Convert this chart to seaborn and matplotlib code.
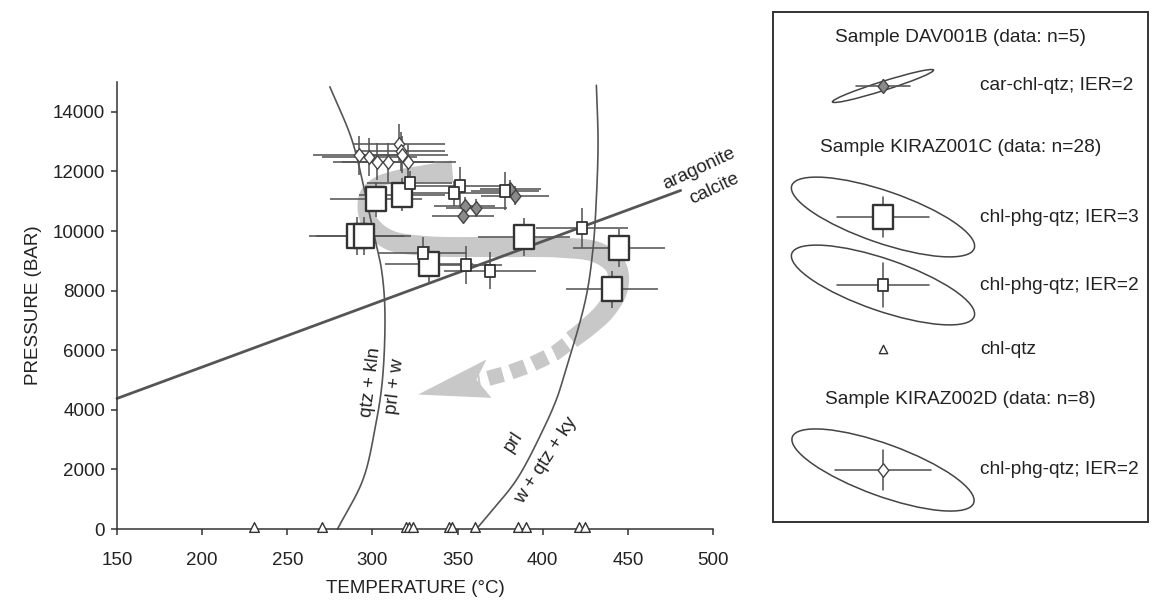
import numpy as np
import matplotlib
matplotlib.use("Agg")
import matplotlib.pyplot as plt
import seaborn as sns
from matplotlib.path import Path
from matplotlib.patches import Ellipse, Polygon

sns.set_theme(style="ticks")
plt.rcParams["font.family"] = ["Liberation Sans", "DejaVu Sans"]
plt.rcParams["lines.scale_dashes"] = False

FS = 13.5
FS_KEY = 13.8
INK = "#222222"
LINE = "#555555"
EDGE = "#333333"
BAND = "#c8c8c8"

# ---- KIRAZ001C : chl-phg-qtz, IER=3 (large squares)
sq3_T = [301.9, 317.4, 290.8, 294.8, 333.3, 389.1, 444.9, 440.5]
sq3_P = [11070, 11220, 9840, 9840, 8890, 9790, 9430, 8050]
sq3_dT = [27, 25, 28, 28, 26, 27, 27, 27]
sq3_dP = [590, 560, 640, 640, 620, 640, 640, 620]

# ---- KIRAZ001C : chl-phg-qtz, IER=2 (small squares)
sq2_T = [321.9, 351.3, 347.9, 377.7, 329.8, 354.8, 368.9, 423.3]
sq2_P = [11620, 11500, 11260, 11340, 9250, 8860, 8670, 10100]
sq2_dT = [25, 30, 28, 20, 26, 21, 27, 27]
sq2_dP = [380, 650, 420, 650, 560, 645, 630, 670]

# ---- KIRAZ001C : chl-qtz (temperature only)
tri_T = [230.6, 270.5, 320.0, 321.5, 323.9, 345.0, 346.8, 360.1, 385.2, 390.0, 421.1, 425.1]
tri_P = [80, 80, 80, 80, 80, 80, 80, 80, 80, 80, 80, 80]

# ---- DAV001B : car-chl-qtz, IER=2
dav_T = [354.2, 361.1, 353.2, 383.6, 381.0]
dav_P = [10850, 10760, 10520, 11190, 11420]
dav_dT = [18, 18, 18, 20, 18]
dav_dP = [280, 300, 260, 320, 300]

# ---- KIRAZ002D : chl-phg-qtz, IER=2
k2_T = [292.2, 298.1, 302.8, 308.9, 320.8, 315.7, 316.5, 317.5]
k2_P = [12540, 12480, 12330, 12310, 12310, 12930, 12670, 12560]
k2_dT = [27, 28, 26, 27, 28, 27, 26, 27]
k2_dP = [650, 640, 620, 650, 600, 660, 640, 620]

# ---- reaction curves
kln_T = [279.5, 294.4, 301.4, 305.9, 307.3, 305.3, 302.8, 298.9, 296.0, 288.0, 275.0]
kln_P = [0, 1650, 3330, 5020, 7400, 8720, 9400, 10400, 11190, 13050, 14840]
prl_T = [361.1, 369.0, 384.6, 400.2, 408.0, 411.9, 425.2, 429.5, 431.5, 432.5, 431.5]
prl_P = [0, 540, 1650, 3330, 4340, 5020, 7710, 9390, 11080, 13000, 14890]
arag_T = [150, 481]
arag_P = [4380, 11360]

# ---- P-T path (band centre line, band width in pixels)
path_T = [347, 330, 312, 302, 296.5, 296, 300, 310, 330, 370, 410, 432, 443, 444, 437, 426, 417]
path_P = [12000, 11920, 11800, 11600, 11250, 10700, 10150, 9700, 9500, 9460, 9440, 9280, 8800, 8100, 7350, 6750, 6350]
path_W = [22, 17, 12, 11, 13, 16, 18, 20, 20, 20, 20, 21, 21, 21, 20, 19, 18]
dash_T = [414, 407, 393.5, 380.6, 367.7, 362]
dash_P = [6195, 5892, 5522, 5253, 5050, 5000]
head_T = [326.8, 367.0, 361.1, 369.9]
head_P = [4512, 5690, 5017, 4400]

SX, SY = 1.704, 0.0297   # approximate pixel scale used for spline parametrisation


def spline(xs, ys, n=40):
    """Centripetal Catmull-Rom curve through the points; also returns fractional index."""
    pts = np.column_stack([np.asarray(xs, float) * SX, np.asarray(ys, float) * SY])
    Q = np.vstack([2 * pts[0] - pts[1], pts, 2 * pts[-1] - pts[-2]])
    out, idx = [], []
    for i in range(1, len(Q) - 2):
        p0, p1, p2, p3 = Q[i - 1], Q[i], Q[i + 1], Q[i + 2]
        t0 = 0.0
        t1 = t0 + max(np.linalg.norm(p1 - p0), 1e-6) ** 0.5
        t2 = t1 + max(np.linalg.norm(p2 - p1), 1e-6) ** 0.5
        t3 = t2 + max(np.linalg.norm(p3 - p2), 1e-6) ** 0.5
        last = i == len(Q) - 3
        t = np.linspace(t1, t2, n, endpoint=last)[:, None]
        A1 = (t1 - t) / (t1 - t0) * p0 + (t - t0) / (t1 - t0) * p1
        A2 = (t2 - t) / (t2 - t1) * p1 + (t - t1) / (t2 - t1) * p2
        A3 = (t3 - t) / (t3 - t2) * p2 + (t - t2) / (t3 - t2) * p3
        B1 = (t2 - t) / (t2 - t0) * A1 + (t - t0) / (t2 - t0) * A2
        B2 = (t3 - t) / (t3 - t1) * A2 + (t - t1) / (t3 - t1) * A3
        C = (t2 - t) / (t2 - t1) * B1 + (t - t1) / (t2 - t1) * B2
        out.append(C)
        idx.append((i - 1) + (t[:, 0] - t1) / (t2 - t1))
    out = np.vstack(out)
    return out[:, 0] / SX, out[:, 1] / SY, np.concatenate(idx)


def band(ax, xs, ys, ws):
    """Polygon (data coords) of a band of variable pixel width around a centre line."""
    x, y, k = spline(xs, ys)
    w = np.interp(k, np.arange(len(ws)), ws)
    d = ax.transData.transform(np.column_stack([x, y]))
    g = np.gradient(d, axis=0)
    g /= np.linalg.norm(g, axis=1)[:, None]
    nrm = np.column_stack([-g[:, 1], g[:, 0]])
    left = d + nrm * (w[:, None] / 2)
    right = d - nrm * (w[:, None] / 2)
    poly = np.vstack([left, right[::-1]])
    return ax.transData.inverted().transform(poly)


def rect_marker(aspect):
    h, w = 0.5, 0.5 * aspect
    return Path([(-w, -h), (w, -h), (w, h), (-w, h), (-w, -h)],
                [Path.MOVETO, Path.LINETO, Path.LINETO, Path.LINETO, Path.CLOSEPOLY])


def diamond_marker(aspect):
    h, w = 0.5, 0.5 * aspect
    return Path([(0, -h), (w, 0), (0, h), (-w, 0), (0, -h)],
                [Path.MOVETO, Path.LINETO, Path.LINETO, Path.LINETO, Path.CLOSEPOLY])


SQ = rect_marker(0.83)
DM = diamond_marker(0.78)

fig = plt.figure(figsize=(11.51, 6.0), dpi=100)
ax = fig.add_axes([117 / 1151, 71 / 600, 596 / 1151, 447 / 600])
ax.set_xlim(150, 500)
ax.set_ylim(0, 15000)

# P-T path band, dashed return and arrow head
ax.add_patch(Polygon(band(ax, path_T, path_P, path_W), closed=True,
                     facecolor=BAND, edgecolor="none", zorder=1))
ax.plot(dash_T, dash_P, color=BAND, lw=11, linestyle=(0, (11, 6)),
        dash_capstyle="butt", solid_capstyle="butt", zorder=1)
ax.add_patch(Polygon(np.column_stack([head_T, head_P]), closed=True,
                     facecolor=BAND, edgecolor="none", zorder=1))

# reaction curves
for cT, cP in ((kln_T, kln_P), (prl_T, prl_P)):
    x, y, _ = spline(cT, cP)
    ax.plot(x, y, color=LINE, lw=1.2, zorder=2, clip_on=False)
ax.plot(arag_T, arag_P, color=LINE, lw=2.0, zorder=2, clip_on=False)

# error crosses
eb = dict(fmt="none", ecolor=LINE, elinewidth=1.15, capsize=0, zorder=3)
ax.errorbar(dav_T, dav_P, xerr=dav_dT, yerr=dav_dP, **eb)
ax.errorbar(sq3_T, sq3_P, xerr=sq3_dT, yerr=sq3_dP, **eb)
ax.errorbar(sq2_T, sq2_P, xerr=sq2_dT, yerr=sq2_dP, **eb)
ax.errorbar(k2_T, k2_P, xerr=k2_dT, yerr=k2_dP, **eb)

# point symbols
sns.scatterplot(x=dav_T, y=dav_P, marker=DM, s=10 ** 2, color="#8a8a8a",
                edgecolor="#444444", linewidth=1.0, zorder=4, ax=ax, legend=False)
sns.scatterplot(x=sq3_T, y=sq3_P, marker=SQ, s=16.6 ** 2, color="white",
                edgecolor=EDGE, linewidth=1.7, zorder=5, ax=ax, legend=False)
sns.scatterplot(x=sq2_T, y=sq2_P, marker=SQ, s=8.6 ** 2, color="white",
                edgecolor=EDGE, linewidth=1.3, zorder=5, ax=ax, legend=False)
sns.scatterplot(x=k2_T, y=k2_P, marker=DM, s=9.8 ** 2, color="white",
                edgecolor="#444444", linewidth=1.0, zorder=6, ax=ax, legend=False)
sns.scatterplot(x=tri_T, y=tri_P, marker="^", s=7 ** 2, color="white",
                edgecolor=EDGE, linewidth=1.0, zorder=6, ax=ax, legend=False,
                clip_on=False)

# curve labels
tk = dict(fontsize=FS, color=INK, ha="center", va="center", rotation_mode="anchor")
ax.text(299.0, 4920, "qtz + kln", rotation=83, **tk)
ax.text(313.1, 4780, "prl + w", rotation=83, **tk)
ax.text(383.0, 2930, "prl", rotation=57, **tk)
ax.text(401.8, 2290, "w + qtz + ky", rotation=57, **tk)
ax.text(492.1, 12090, "aragonite", rotation=25, **tk)
ax.text(501.0, 11410, "calcite", rotation=25, **tk)

ax.set_xticks(np.arange(150, 501, 50))
ax.set_yticks(np.arange(0, 14001, 2000))
ax.tick_params(direction="out", length=4.5, width=1.1, color=EDGE, labelsize=FS,
               labelcolor=INK, pad=4)
ax.tick_params(axis="x", pad=12)
ax.set_xlabel("TEMPERATURE (°C)", fontsize=FS, color=INK, labelpad=8)
ax.set_ylabel("PRESSURE (BAR)", fontsize=FS, color=INK, labelpad=8)
sns.despine(ax=ax)
for sp in ("left", "bottom"):
    ax.spines[sp].set_linewidth(1.1)
    ax.spines[sp].set_color(EDGE)

# ---- key panel (pixel coordinates)
L, R, TOP, BOT = 773, 1148, 12, 522
lg = fig.add_axes([L / 1151, (600 - BOT) / 600, (R - L) / 1151, (BOT - TOP) / 600])
lg.set_xlim(L, R)
lg.set_ylim(BOT, TOP)
lg.set_xticks([])
lg.set_yticks([])
lg.set_facecolor("white")
for sp in lg.spines.values():
    sp.set_visible(True)
    sp.set_linewidth(1.4)
    sp.set_color("#333333")

cx, tx, mid = 883, 980, (L + R) / 2
lt = dict(fontsize=FS_KEY, color=INK, va="center")
lg.text(mid, 38, "Sample DAV001B (data: n=5)", ha="center", **lt)
lg.text(mid, 147, "Sample KIRAZ001C (data: n=28)", ha="center", **lt)
lg.text(mid, 400, "Sample KIRAZ002D (data: n=8)", ha="center", **lt)

ell = dict(facecolor="none", edgecolor="#444444", linewidth=1.1)
lg.add_patch(Ellipse((cx, 86), 106, 9, angle=-17.5, **ell))
lg.add_patch(Ellipse((cx, 217), 193, 52, angle=19, **ell))
lg.add_patch(Ellipse((cx, 285), 193, 52, angle=19, **ell))
lg.add_patch(Ellipse((cx, 470), 193, 52, angle=20, **ell))

lk = dict(color=LINE, lw=1.15, zorder=3)
for yy, hx, hy in ((86, 27, 6), (217, 46, 20), (285, 46, 22), (470, 48, 20)):
    lg.plot([cx - hx, cx + hx], [yy, yy], **lk)
    lg.plot([cx, cx], [yy - hy, yy + hy], **lk)

lg.scatter([cx], [86], marker=DM, s=10 ** 2, color="#8a8a8a",
           edgecolor="#444444", linewidth=1.0, zorder=4)
lg.scatter([cx], [217], marker=SQ, s=16.6 ** 2, color="white",
           edgecolor=EDGE, linewidth=1.7, zorder=4)
lg.scatter([cx], [285], marker=SQ, s=8.6 ** 2, color="white",
           edgecolor=EDGE, linewidth=1.3, zorder=4)
lg.scatter([cx], [349], marker="^", s=6 ** 2, color="white",
           edgecolor=EDGE, linewidth=1.0, zorder=4)
lg.scatter([cx], [470], marker=DM, s=9.8 ** 2, color="white",
           edgecolor="#444444", linewidth=1.0, zorder=4)

lg.text(tx, 86, "car-chl-qtz; IER=2", ha="left", **lt)
lg.text(tx, 217, "chl-phg-qtz; IER=3", ha="left", **lt)
lg.text(tx, 285, "chl-phg-qtz; IER=2", ha="left", **lt)
lg.text(tx, 349, "chl-qtz", ha="left", **lt)
lg.text(tx, 470, "chl-phg-qtz; IER=2", ha="left", **lt)

fig.savefig("out.png", dpi=100)
